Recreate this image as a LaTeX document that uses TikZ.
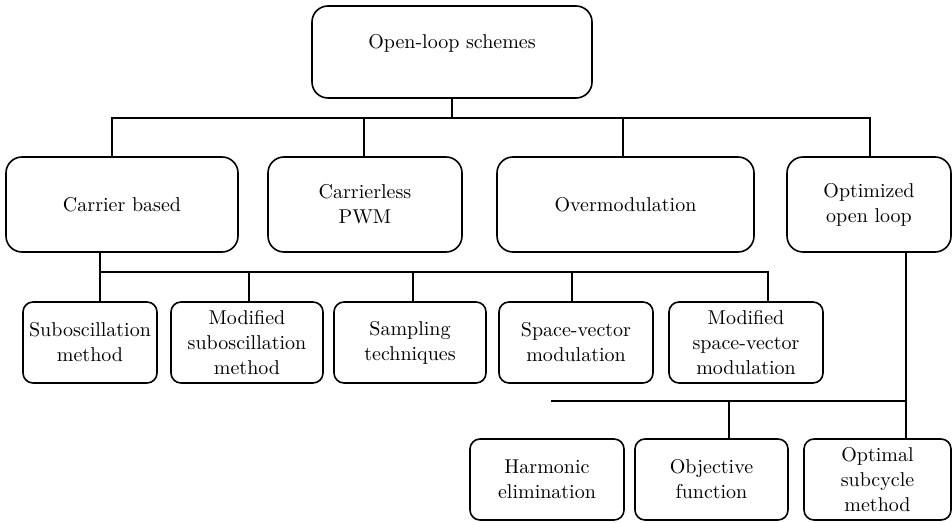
\documentclass[tikz,border=0pt]{standalone}
\usepackage{tikz}

\begin{document}
\begin{tikzpicture}[x=0.5pt, y=-0.5pt,
    box/.style={draw, line width=0.8pt, rounded corners=8pt, align=center, inner sep=1pt,
        minimum height=47.5pt, font=\fontsize{10}{12.5}\selectfont},
    smallbox/.style={box, rounded corners=5pt, minimum height=40.5pt},
    link/.style={line width=0.8pt}]
    \useasboundingbox (0,0) rectangle (952,523);

    % Top level
    \node[box, minimum width=140pt, minimum height=46pt, text depth=11pt] (open) at (452,52) {Open-loop schemes};

    % Second level
    \node[box, minimum width=116pt] (carrier) at (122,204.5) {Carrier based};
    \node[box, minimum width=97pt] (carrierless) at (365,204.5) {Carrierless\\PWM};
    \node[box, minimum width=128.5pt] (overmod) at (625.5,204.5) {Overmodulation};
    \node[box, minimum width=82pt] (optimized) at (869,204.5) {Optimized\\open loop};

    % Carrier based methods
    \node[smallbox, minimum width=67pt] (subosc) at (90,342.5) {Suboscillation\\method};
    \node[smallbox, minimum width=76pt] (modsub) at (247,342.5) {Modified\\suboscillation\\method};
    \node[smallbox, minimum width=76pt] (sampling) at (410,342.5) {Sampling\\techniques};
    \node[smallbox, minimum width=77pt] (spacevec) at (576,342.5) {Space-vector\\modulation};
    \node[smallbox, minimum width=77pt] (modsv) at (746,342.5) {Modified\\space-vector\\modulation};

    % Optimized open loop methods
    \node[smallbox, minimum width=77pt] (harmonic) at (547,479.5) {Harmonic\\elimination};
    \node[smallbox, minimum width=76.5pt] (objective) at (711.5,479.5) {Objective\\function};
    \node[smallbox, minimum width=73.5pt] (optsub) at (877.5,479.5) {Optimal\\subcycle\\method};

    % Connectors from the top
    \coordinate (bus1) at (0,118);
    \draw[link] (open.south) -- (open.south |- bus1);
    \draw[link] ([xshift=-5pt]carrier.north) |- ([xshift=0.5pt]optimized.north |- bus1) -- ([xshift=0.5pt]optimized.north);
    \foreach \n/\dx in {carrierless/-0.5pt, overmod/-1.25pt}
        \draw[link] ([xshift=\dx]\n.north) -- ++(0,-39);

    % Connectors below carrier based
    \draw[link] ([xshift=-11pt]carrier.south) -- ([xshift=5pt]subosc.north);
    \draw[link] ([xshift=5pt]subosc.north) ++(0,-29) -| ([xshift=11pt]modsv.north);
    \foreach \n/\dx in {modsub/1pt, sampling/1.5pt, spacevec/-2pt}
        \draw[link] ([xshift=\dx]\n.north) -- ++(0,-29);

    % Connectors below optimized open loop
    \draw[link] ([xshift=18.5pt]optimized.south) -- ([xshift=14.25pt]optsub.north);
    \draw[link] ([xshift=2pt]harmonic.north) ++(0,-37) -| ([xshift=14.25pt]optsub.north);
    \draw[link] ([xshift=8.75pt]objective.north) -- ++(0,-37);
\end{tikzpicture}
\end{document}
